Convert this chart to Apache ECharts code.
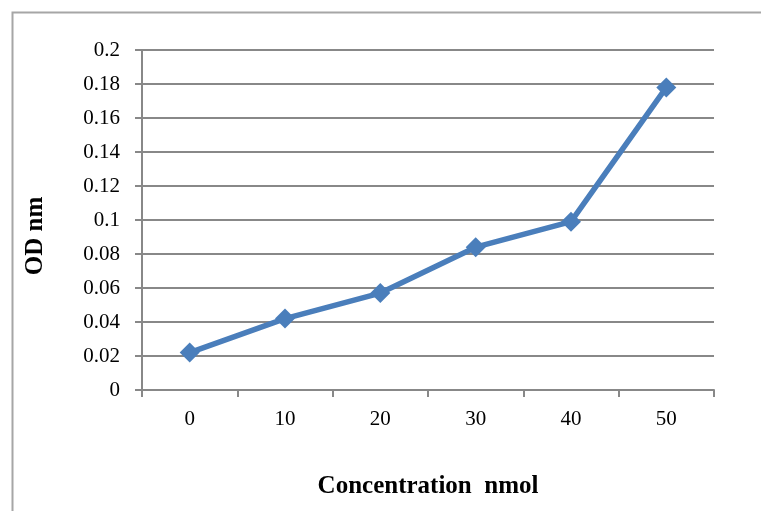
<!DOCTYPE html>
<html><head><meta charset="utf-8">
<script src="https://cdn.jsdelivr.net/npm/echarts@6/dist/echarts.min.js"></script>
<style>html,body{margin:0;padding:0;background:#fff}#c{width:761px;height:511px}</style>
</head><body><div id="c"></div>
<script>
var categories = ['0', '10', '20', '30', '40', '50'];
var odValues = [0.022, 0.042, 0.057, 0.084, 0.099, 0.178];
var xTitle = 'Concentration  nmol';
var yTitle = 'OD nm';

var chart = echarts.init(document.getElementById('c'));
var font = '"Liberation Serif", "Times New Roman", serif';
chart.setOption({
  animation: false,
  backgroundColor: '#fff',
  graphic: [{
    type: 'rect', left: 10, top: 10,
    shape: { width: 800, height: 600 },
    style: { fill: 'none', stroke: '#a6a6a6', lineWidth: 2 }
  }],
  grid: { left: 142, right: 47, top: 50, bottom: 121 },
  xAxis: {
    type: 'category', data: categories, boundaryGap: true,
    name: xTitle, nameLocation: 'middle', nameGap: 84,
    nameTextStyle: { fontFamily: font, fontSize: 25, fontWeight: 'bold', color: '#000' },
    axisLine: { lineStyle: { color: '#888', width: 2 } },
    axisTick: { show: true, interval: 0, length: 7, lineStyle: { color: '#888', width: 2 } },
    axisLabel: { fontFamily: font, fontSize: 21, color: '#000', margin: 19 },
    splitLine: { show: false }
  },
  yAxis: {
    type: 'value', min: 0, max: 0.2, interval: 0.02,
    name: yTitle, nameLocation: 'middle', nameGap: 94,
    nameTextStyle: { fontFamily: font, fontSize: 25, fontWeight: 'bold', color: '#000',
      padding: [0, 32, 0, 0] },
    axisLine: { show: true, lineStyle: { color: '#888', width: 2 } },
    axisTick: { show: true, length: 7, lineStyle: { color: '#888', width: 2 } },
    axisLabel: { fontFamily: font, fontSize: 21, color: '#000', margin: 22,
      formatter: function (v) { return String(parseFloat(v.toFixed(2))); } },
    splitLine: { show: true, lineStyle: { color: '#888', width: 2 } }
  },
  series: [{
    type: 'line', data: odValues,
    symbol: 'diamond', symbolSize: 20,
    lineStyle: { color: '#4a7ebb', width: 5.5 },
    itemStyle: { color: '#4a7ebb' }
  }]
});
</script></body></html>
